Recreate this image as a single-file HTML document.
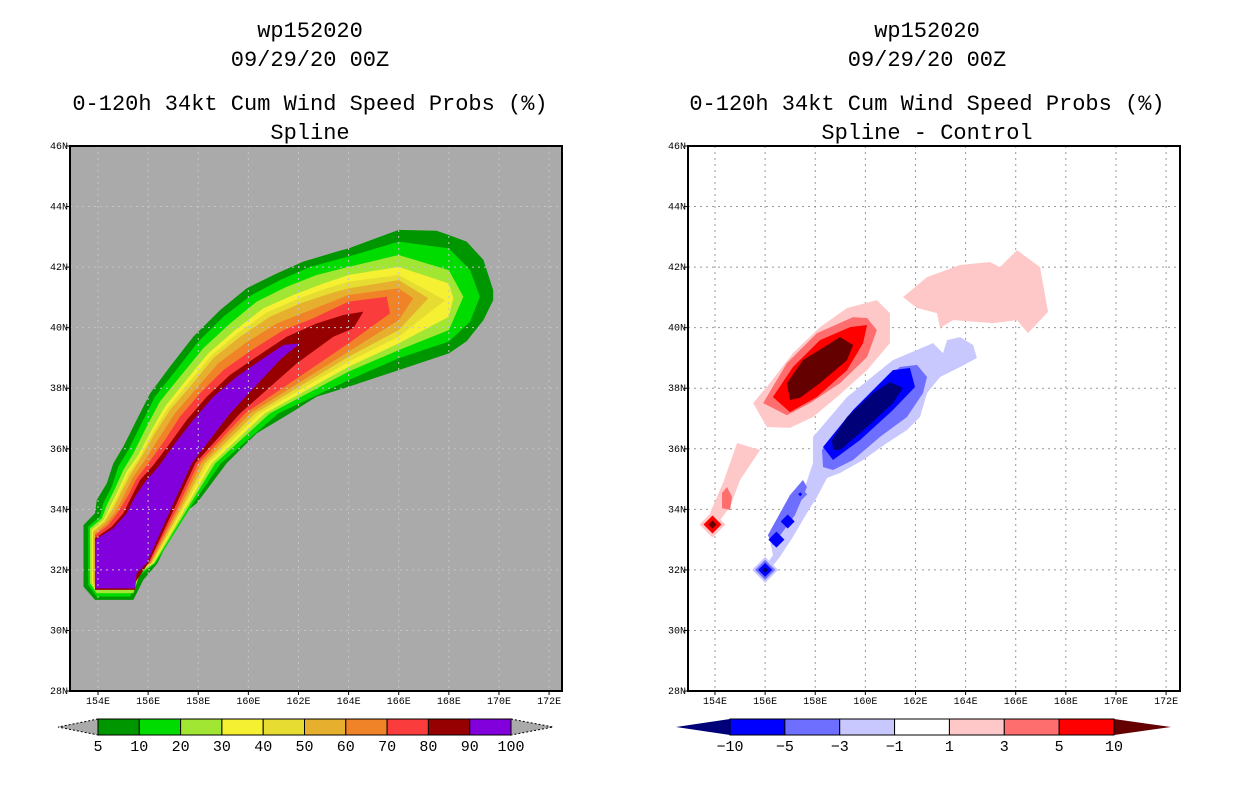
<!DOCTYPE html>
<html><head><meta charset="utf-8"><style>
body{margin:0;background:#fff;width:1236px;height:800px;overflow:hidden}
svg text{font-family:"Liberation Mono",monospace}
</style></head><body>
<svg id="svg" width="1236" height="800" xmlns="http://www.w3.org/2000/svg">
<g id="titles" font-size="22" text-anchor="middle" fill="#000">
<text x="310" y="37">wp152020</text>
<text x="310" y="66">09/29/20 00Z</text>
<text x="310" y="110">0-120h 34kt Cum Wind Speed Probs (%)</text>
<text x="310" y="139">Spline</text>
<text x="927" y="37">wp152020</text>
<text x="927" y="66">09/29/20 00Z</text>
<text x="927" y="110">0-120h 34kt Cum Wind Speed Probs (%)</text>
<text x="927" y="139">Spline - Control</text>
</g>
<defs>
<clipPath id="cl"><rect x="70" y="146" width="492" height="545"/></clipPath>
<clipPath id="cr"><rect x="688" y="146" width="492" height="545"/></clipPath>
</defs>
<rect x="70" y="146" width="492" height="545" fill="#aaaaaa"/>
<g id="left" clip-path="url(#cl)"></g>
<g id="lgrid"></g>
<rect x="70" y="146" width="492" height="545" fill="none" stroke="#000" stroke-width="2"/>
<g id="rgrid"></g>
<g id="right" clip-path="url(#cr)"></g>
<rect x="688" y="146" width="492" height="545" fill="none" stroke="#000" stroke-width="2"/>
<g id="axes" font-size="10" fill="#000"></g>
<g id="cbars" font-size="15" fill="#000"></g>
</svg>
<script>
// ---- data ----
const latTicks=[28,30,32,34,36,38,40,42,44,46];
const lonTicks=[154,156,158,160,162,164,166,168,170,172];
const probLevels=[5,10,20,30,40,50,60,70,80,90];
const probColors=['#009600','#00dc00','#a0e632','#f5f032','#e6dc32','#e6af2d','#f08228','#fa3c3c','#960000','#8200dc'];
// probability contours (>= level), lon/lat vertices
const p5Lon=[153.42,153.42,153.88,153.95,154.35,154.61,155.01,155.54,156.08,156.87,157.80,158.87,159.93,161.13,162.19,163.52,164,166,167.51,168,168.71,169.38,169.77,169.77,169.38,168.71,168,166,164,162.72,161.66,160.33,159.13,157.94,157.27,156.37,155.81,155.41,153.88];
const p5Lat=[31.45,33.48,33.87,34.31,34.86,35.52,36.07,36.95,37.83,38.71,39.70,40.58,41.30,41.79,42.18,42.51,42.62,43.23,43.20,43.06,42.84,42.24,41.24,40.91,40.25,39.55,39.15,38.60,38.05,37.72,37.17,36.51,35.52,34.20,33.76,32.22,31.67,31.01,31.01];
const p10Lon=[153.61,153.61,154.08,154.21,154.55,154.81,155.21,155.74,156.27,157.07,158.00,159.00,160.13,161.26,162.46,164,166,168,168.85,169.24,168.85,168,166,164,161.20,158.90,157.80,156.30,155.61,155.28,153.95];
const p10Lat=[31.50,33.43,33.76,34.20,34.75,35.41,35.96,36.84,37.72,38.55,39.54,40.36,41.08,41.57,42.01,42.35,42.84,42.62,41.90,41.02,40.20,39.54,38.99,38.27,37.17,35.52,34.20,32.22,31.78,31.12,31.12];
const p20Lon=[153.68,153.68,154.15,154.35,154.68,155.01,155.41,155.94,156.47,157.27,158.20,159.27,160.33,161.53,162.72,164,166,168,168.58,168,166,164,160.86,158.68,157.70,156.25,155.68,155.41,153.95];
const p20Lat=[31.56,33.37,33.70,34.14,34.69,35.30,35.85,36.73,37.56,38.38,39.32,40.14,40.86,41.35,41.74,42.01,42.40,41.90,41.02,39.92,39.26,38.55,37.17,35.52,34.20,32.22,31.89,31.23,31.23];
const p30Lon=[153.75,153.75,154.21,154.48,154.81,155.14,155.61,156.14,156.67,157.47,158.40,159.47,160.60,161.79,162.99,164,166,168,168.18,168,166,164,160.66,158.54,157.61,156.21,155.61,155.41,153.88];
const p30Lat=[31.61,33.32,33.65,34.09,34.64,35.24,35.79,36.62,37.39,38.22,39.15,39.92,40.64,41.08,41.46,41.74,42.01,41.46,40.97,40.36,39.48,38.71,37.17,35.52,34.20,32.22,31.94,31.34,31.34];
const p40Lon=[153.79,153.79,154.24,154.55,154.88,155.21,155.68,156.21,156.77,157.57,158.50,159.56,160.73,161.93,163.12,164,166,167.85,166,164,160.46,158.39,157.51,156.17,155.61,155.41,153.88];
const p40Lat=[31.64,33.30,33.63,34.07,34.62,35.19,35.77,36.57,37.33,38.14,39.06,39.81,40.50,40.94,41.30,41.52,41.74,40.91,39.70,38.88,37.17,35.52,34.20,32.22,31.97,31.36,31.36];
const p50Lon=[153.81,153.81,154.28,154.61,154.94,155.28,155.74,156.27,156.87,157.67,158.60,159.67,160.86,162.06,163.26,164,166,167.18,166,164,160.27,158.26,157.43,156.13,155.54,155.41,153.88];
const p50Lat=[31.64,33.26,33.59,34.03,34.58,35.13,35.74,36.51,37.28,38.05,38.99,39.70,40.36,40.80,41.13,41.30,41.57,40.97,39.92,39.04,37.17,35.52,34.20,32.22,31.99,31.39,31.39];
const p60Lon=[153.88,153.88,154.35,154.75,155.08,155.41,155.88,156.47,157.07,157.87,158.80,159.87,161.13,162.33,164,166,166.58,166,164,160.07,158.12,157.34,156.09,155.54,155.41,153.88];
const p60Lat=[31.67,33.21,33.54,33.98,34.53,35.08,35.63,36.40,37.17,37.94,38.82,39.48,40.14,40.53,41.08,41.30,40.97,40.25,39.21,37.17,35.52,34.20,32.22,32.05,31.45,31.45];
const p70Lon=[153.88,153.88,154.41,154.81,155.21,155.54,156.01,156.67,157.27,158.07,159.00,160.13,161.40,162.59,164,165.52,165.65,164,159.87,158.00,157.25,156.05,155.61,155.48,153.88];
const p70Lat=[31.67,33.15,33.48,33.92,34.47,35.02,35.52,36.29,37.06,37.83,38.60,39.26,39.92,40.31,40.86,41.02,40.47,39.48,37.17,35.52,34.20,32.22,32.11,31.40,31.40];
const p80Lon=[153.88,153.88,154.55,155.01,155.34,155.68,156.21,156.87,157.54,158.34,159.27,160.33,161.53,162.72,163.79,164.59,164.19,163.39,161.93,159.67,157.88,157.14,156.01,155.50,155.48,153.88];
const p80Lat=[31.67,33.04,33.43,33.87,34.42,34.97,35.46,36.18,36.95,37.72,38.44,39.04,39.70,40.14,40.42,40.53,39.98,39.70,38.82,37.17,35.52,34.20,32.22,31.60,31.34,31.34];
const p90Lon=[153.88,153.88,154.61,155.14,155.48,155.88,156.41,157.07,157.80,158.60,159.53,160.60,161.40,162.06,161.40,161.13,159.27,157.74,157.01,155.94,155.54,155.48];
const p90Lat=[31.39,32.99,33.37,33.87,34.42,34.91,35.41,36.18,36.95,37.72,38.38,38.99,39.43,39.48,39.04,38.82,37.17,35.52,34.20,32.22,31.89,31.39];
// difference-field contours (lon/lat vertices), drawn light to dark
const pinkMainLon=[155.52,156.19,157.11,158.19,159.27,160.46,160.98,160.98,160.07,158.87,157.91,156.99,156.07];
const pinkMainLat=[37.51,38.17,39.16,40.02,40.65,40.91,40.48,39.49,38.60,37.71,37.05,36.69,36.72];
const salmonLon=[155.92,156.87,158.07,159.51,160.07,160.46,160.07,158.99,157.79,156.87];
const salmonLat=[37.51,38.83,39.82,40.35,40.32,39.92,39.03,38.17,37.51,37.11];
const redLon=[156.31,157.11,158.19,159.39,160.07,159.91,159.27,158.07,156.99];
const redLat=[37.71,38.70,39.59,40.02,40.09,39.49,38.60,37.71,37.21];
const darkRedLon=[156.99,156.87,157.51,158.99,159.51,159.27,158.19,157.39];
const darkRedLat=[37.61,38.17,38.93,39.69,39.43,38.93,38.17,37.68];
const pinkNELon=[161.50,162.46,163.78,164.97,165.37,166.05,166.97,167.29,166.49,166.05,165.09,163.50,162.98,162.86,162.06];
const pinkNELat=[41.01,41.67,42.07,42.17,42.00,42.56,42.00,40.52,39.82,40.25,40.15,40.25,39.99,40.48,40.65];
const pinkSWLon=[154.88,155.80,155.00,154.60,154.20,153.80,154.32];
const pinkSWLat=[36.19,35.96,34.97,34.08,33.65,33.88,34.87];
const salmonSWLon=[154.48,154.68,154.60,154.28,154.28];
const salmonSWLat=[34.74,34.41,33.98,34.04,34.54];
const lavLon=[155.92,156.31,156.19,156.87,157.51,157.91,157.91,159.27,161.10,162.70,163.10,163.26,163.78,164.30,164.45,163.78,162.98,162.46,162.18,161.66,160.86,159.91,158.99,158.47,158.07,157.67,157.11,156.59,156.08];
const lavLat=[32.0,32.49,32.99,33.55,34.54,35.53,36.39,37.71,38.93,39.49,39.16,39.59,39.69,39.43,39.00,38.70,38.37,37.84,37.05,36.62,36.19,35.63,35.20,35.04,34.41,33.88,33.09,32.43,31.90];
const medLon=[158.27,159.27,160.46,161.38,162.06,162.46,162.30,161.66,160.58,159.51,158.71,158.31];
const medLat=[35.96,37.05,38.04,38.70,38.77,38.37,37.84,37.05,36.39,35.63,35.30,35.40];
const medTailLon=[156.31,157.19,157.67,157.51,156.99,156.11];
const medTailLat=[32.82,33.81,34.74,34.97,34.47,33.15];
const blueLon=[158.31,159.51,161.10,161.78,161.98,161.10,159.79,158.71];
const blueLat=[36.06,37.28,38.60,38.67,38.04,37.28,36.29,35.63];
const navyLon=[158.71,158.67,159.27,160.30,160.98,161.50,161.10,160.07,158.99];
const navyLat=[35.96,36.29,37.05,37.84,38.20,38.01,37.51,36.72,35.96];
// point extrema (diamonds): lon, lat, half-size px, class
const dLon=[153.9,153.9,153.9, 156,156,156,156, 156.45,156.9,157.4,157.4];
const dLat=[33.5,33.5,33.5, 32,32,32,32, 33.0,33.6,34.5,34.5];
const dSize=[13,9,4, 13,10,7,3, 8,7,7,2];
const dCls=[4,6,7, 2,1,0,-1, 0,0,1,0];
const diffColors=['#0000ff','#6e6eff','#c8c8ff','#ffffff','#ffc8c8','#ff6e6e','#ff0000','#640000'];
const diffNavy='#000078';
const diffTicks=['-10','-5','-3','-1','1','3','5','10'];
// ---- axes ----
const xL=lon=>98+(lon-154)*25.06, xR=lon=>715+(lon-154)*25.06, y=lat=>146+(46-lat)*30.28;
const NS='http://www.w3.org/2000/svg';
function mk(tag,parent,attrs){const e=document.createElementNS(NS,tag);for(const k in attrs)e.setAttribute(k,attrs[k]);document.getElementById(parent).appendChild(e);return e;}
// left contours
const probContours=[[p5Lon,p5Lat],[p10Lon,p10Lat],[p20Lon,p20Lat],[p30Lon,p30Lat],[p40Lon,p40Lat],[p50Lon,p50Lat],[p60Lon,p60Lat],[p70Lon,p70Lat],[p80Lon,p80Lat],[p90Lon,p90Lat]];
probContours.forEach((c,i)=>{
  const e=mk('polygon','left',{points:c[0].map((lo,k)=>xL(lo)+','+y(c[1][k])).join(' '),fill:probColors[i]});
  
  
});
// grids
for(const [g,fx,col] of [['lgrid',xL,'#c4c4c4'],['rgrid',xR,'#999']]){
  const x0=g=='lgrid'?70:688;
  for(const lo of lonTicks){const e=mk('line',g,{x1:fx(lo),x2:fx(lo),y1:146,y2:691,stroke:col,'stroke-dasharray':'2,4'});
  
  }
  for(const la of latTicks){const e=mk('line',g,{x1:x0,x2:x0+492,y1:y(la),y2:y(la),stroke:col,'stroke-dasharray':'2,4'});
  
  }
}
// right contours
const contours=[[pinkMainLon,pinkMainLat,4,'pos-1'],[salmonLon,salmonLat,5,'pos-3'],[redLon,redLat,6,'pos-5'],[darkRedLon,darkRedLat,7,'pos-10'],
[pinkNELon,pinkNELat,4,'pos-1-ne'],[pinkSWLon,pinkSWLat,4,'pos-1-sw'],[salmonSWLon,salmonSWLat,5,'pos-3-sw'],
[lavLon,lavLat,2,'neg-1'],[medLon,medLat,1,'neg-3'],[medTailLon,medTailLat,1,'neg-3-tail'],[blueLon,blueLat,0,'neg-5'],[navyLon,navyLat,-1,'neg-10']];
for(const c of contours){
  const e=mk('polygon','right',{points:c[0].map((lo,k)=>xR(lo)+','+y(c[1][k])).join(' '),fill:c[2]<0?diffNavy:diffColors[c[2]]});
  
  
}
for(let i=0;i<dLon.length;i++){
  const cx=xR(dLon[i]),cy=y(dLat[i]),a=dSize[i],c=dCls[i];
  const e=mk('polygon','right',{points:`${cx},${cy-a} ${cx+a},${cy} ${cx},${cy+a} ${cx-a},${cy}`,fill:c<0?diffNavy:diffColors[c]});
  
  
}
// tick labels
for(const off of [0,618]){
  for(const la of latTicks){const t=mk('text','axes',{x:68+off,y:y(la)+3,'text-anchor':'end'});t.textContent=la+'N';
  
  
  const l=mk('line','axes',{x1:66+off,x2:70+off,y1:y(la),y2:y(la),stroke:'#000'});
  
  }
  for(const lo of lonTicks){const xx=(off?xR(lo):xL(lo));const t=mk('text','axes',{x:xx,y:704,'text-anchor':'middle'});t.textContent=lo+'E';
  
  
  const l=mk('line','axes',{x1:xx,x2:xx,y1:691,y2:695,stroke:'#000'});
  
  }
}
// colorbars
(function(){
  let e=mk('polygon','cbars',{points:'98,719 58,727 98,735',fill:'#aaa',stroke:'#000','stroke-dasharray':'2,2'});
  
  
  e=mk('polygon','cbars',{points:'511,719 553,727 511,735',fill:'#aaa',stroke:'#000','stroke-dasharray':'2,2'});
  
  
  const w=(511-98)/probColors.length;
  probColors.forEach((c,i)=>{const r=mk('rect','cbars',{x:98+i*w,y:719,width:w,height:16,fill:c,stroke:'#000'});
  
  });
  [...probLevels,100].forEach((v,i)=>{const t=mk('text','cbars',{x:98+i*w,y:751,'text-anchor':'middle'});t.textContent=v;
  
  });
  e=mk('polygon','cbars',{points:'730,719 676,727 730,735',fill:diffNavy});
  
  
  e=mk('polygon','cbars',{points:'1114,719 1171,727 1114,735',fill:diffColors[7]});
  
  
  const w2=(1114-730)/7;
  for(let i=0;i<7;i++){const r=mk('rect','cbars',{x:730+i*w2,y:719,width:w2,height:16,fill:diffColors[i],stroke:'#000'});
  
  }
  diffTicks.forEach((v,i)=>{const t=mk('text','cbars',{x:730+i*w2,y:751,'text-anchor':'middle'});t.textContent=v.replace('-','\u2212');
  
  });
})();
</script>
</body></html>
